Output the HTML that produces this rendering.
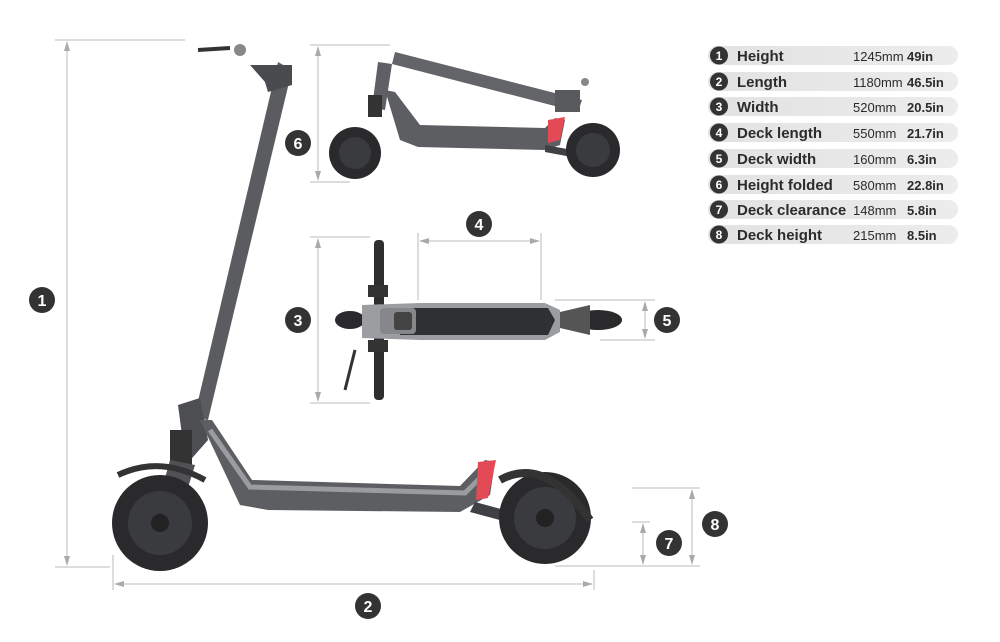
<!DOCTYPE html>
<html><head><meta charset="utf-8"><style>
body{margin:0;background:#fff;width:1000px;height:637px;overflow:hidden;font-family:"Liberation Sans",sans-serif}
.n{font-weight:bold;fill:#fff;font-size:16px;text-anchor:middle}
.t{font-weight:bold;font-size:15px;fill:#2b2b2b}
.mm{font-size:13px;fill:#2b2b2b}
.in{font-size:13px;font-weight:bold;fill:#2b2b2b}
</style></head><body>
<svg width="1000" height="637" viewBox="0 0 1000 637" xmlns="http://www.w3.org/2000/svg">
<defs>
<linearGradient id="pill" x1="0" x2="1"><stop offset="0" stop-color="#e2e2e2"/><stop offset="1" stop-color="#ececec"/></linearGradient>
<marker id="a" markerWidth="10" markerHeight="8" refX="9" refY="4" orient="auto-start-reverse"><path d="M0,1 L10,4 L0,7z" fill="#aaa"/></marker>
</defs>
<g stroke="#bbb" stroke-width="1" fill="none">
<line x1="55" y1="40" x2="185" y2="40"/><line x1="55" y1="567" x2="110" y2="567"/>
<line x1="67" y1="42" x2="67" y2="565" marker-start="url(#a)" marker-end="url(#a)"/>
<line x1="113" y1="555" x2="113" y2="590"/><line x1="594" y1="570" x2="594" y2="590"/>
<line x1="115" y1="584" x2="592" y2="584" marker-start="url(#a)" marker-end="url(#a)"/>
<line x1="310" y1="45" x2="390" y2="45"/><line x1="310" y1="182" x2="350" y2="182"/>
<line x1="318" y1="47" x2="318" y2="180" marker-start="url(#a)" marker-end="url(#a)"/>
<line x1="310" y1="237" x2="370" y2="237"/><line x1="310" y1="403" x2="370" y2="403"/>
<line x1="318" y1="239" x2="318" y2="401" marker-start="url(#a)" marker-end="url(#a)"/>
<line x1="418" y1="233" x2="418" y2="300"/><line x1="541" y1="233" x2="541" y2="300"/>
<line x1="420" y1="241" x2="539" y2="241" marker-start="url(#a)" marker-end="url(#a)"/>
<line x1="555" y1="300" x2="655" y2="300"/><line x1="600" y1="340" x2="655" y2="340"/>
<line x1="645" y1="302" x2="645" y2="338" marker-start="url(#a)" marker-end="url(#a)"/>
<line x1="632" y1="488" x2="700" y2="488"/><line x1="632" y1="522" x2="650" y2="522"/><line x1="555" y1="566" x2="700" y2="566"/>
<line x1="643" y1="524" x2="643" y2="564" marker-start="url(#a)" marker-end="url(#a)"/>
<line x1="692" y1="490" x2="692" y2="564" marker-start="url(#a)" marker-end="url(#a)"/>
</g>
<!-- main scooter -->
<g>
<path d="M278,62 L292,70 L208,420 L194,418z" fill="#5a5c60"/>
<path d="M250,65 L292,65 L292,85 L268,92 L265,82z" fill="#4a4b4f"/>
<circle cx="240" cy="50" r="6" fill="#888"/><path d="M198,50 L230,48" stroke="#333" stroke-width="4"/>
<path d="M178,405 L200,398 L208,440 L186,465z" fill="#4d4e52"/>
<rect x="170" y="430" width="22" height="35" fill="#333"/>
<path d="M170,460 L195,465 L178,520 L155,515z" fill="#505154"/>
<path d="M200,420 L212,420 L252,480 L460,486 L485,460 L495,462 L490,495 L460,512 L268,510 L240,505z" fill="#5c5e62"/>
<path d="M210,430 L250,487 L465,493 L490,468" stroke="#9a9c9f" stroke-width="5" fill="none"/>
<path d="M478,462 L496,460 L488,498 L476,500z" fill="#e34a55"/>
<path d="M475,502 L560,525 L555,535 L470,512z" fill="#3f4043"/>
<circle cx="160" cy="523" r="48" fill="#2a2a2c"/><circle cx="160" cy="523" r="32" fill="#3a3b3e"/><circle cx="160" cy="523" r="9" fill="#222"/>
<path d="M118,475 Q160,455 205,480" stroke="#333" stroke-width="6" fill="none"/>
<circle cx="545" cy="518" r="46" fill="#2a2a2c"/><circle cx="545" cy="518" r="31" fill="#3a3b3e"/><circle cx="545" cy="518" r="9" fill="#222"/>
<path d="M500,480 Q545,455 590,520" stroke="#333" stroke-width="8" fill="none"/>
</g>
<!-- folded scooter -->
<g>
<path d="M395,52 L582,100 L578,112 L392,64z" fill="#626468"/>
<rect x="555" y="90" width="25" height="22" fill="#58595d"/>
<circle cx="585" cy="82" r="4" fill="#888"/>
<path d="M378,62 L392,64 L385,110 L372,108z" fill="#5e6064"/>
<rect x="368" y="95" width="14" height="22" fill="#333"/>
<path d="M385,90 L395,92 L420,125 L545,128 L555,118 L565,120 L560,145 L545,150 L418,147 L400,140z" fill="#5c5e62"/>
<path d="M548,120 L565,117 L560,140 L548,143z" fill="#e34a55"/>
<path d="M545,145 L600,155 L598,162 L545,152z" fill="#3f4043"/>
<circle cx="355" cy="153" r="26" fill="#2a2a2c"/><circle cx="355" cy="153" r="16" fill="#3a3b3e"/>
<circle cx="593" cy="150" r="27" fill="#2a2a2c"/><circle cx="593" cy="150" r="17" fill="#3a3b3e"/>
</g>
<!-- top view -->
<g>
<rect x="374" y="240" width="10" height="160" rx="4" fill="#2e2e30"/>
<rect x="368" y="285" width="20" height="12" fill="#333"/><rect x="368" y="340" width="20" height="12" fill="#333"/>
<ellipse cx="350" cy="320" rx="15" ry="9" fill="#2a2a2c"/>
<path d="M362,305 L420,303 L545,303 L560,310 L560,332 L545,340 L420,340 L362,338z" fill="#9b9da0"/>
<path d="M400,308 L548,308 L555,320 L548,335 L400,335z" fill="#2f3033"/>
<rect x="380" y="308" width="36" height="26" rx="4" fill="#85878a"/>
<rect x="394" y="312" width="18" height="18" rx="3" fill="#444"/>
<ellipse cx="598" cy="320" rx="24" ry="10" fill="#2a2a2c"/>
<path d="M560,312 L590,305 L590,335 L560,328z" fill="#555"/>
<path d="M355,350 L345,390" stroke="#333" stroke-width="3"/>
</g>
<!-- number badges -->
<g fill="#333">
<circle cx="42" cy="300" r="13"/><circle cx="368" cy="606" r="13"/><circle cx="298" cy="143" r="13"/>
<circle cx="298" cy="320" r="13"/><circle cx="479" cy="224" r="13"/><circle cx="667" cy="320" r="13"/>
<circle cx="669" cy="543" r="13"/><circle cx="715" cy="524" r="13"/>
</g>
<g class="n">
<text x="42" y="306" class="n">1</text><text x="368" y="612" class="n">2</text><text x="298" y="149" class="n">6</text>
<text x="298" y="326" class="n">3</text><text x="479" y="230" class="n">4</text><text x="667" y="326" class="n">5</text>
<text x="669" y="549" class="n">7</text><text x="715" y="530" class="n">8</text>
</g>
<!-- table -->
<g>
<rect x="708" y="46" width="250" height="19" rx="9.5" fill="url(#pill)"/>
<rect x="708" y="72" width="250" height="19" rx="9.5" fill="url(#pill)"/>
<rect x="708" y="97" width="250" height="19" rx="9.5" fill="url(#pill)"/>
<rect x="708" y="123" width="250" height="19" rx="9.5" fill="url(#pill)"/>
<rect x="708" y="149" width="250" height="19" rx="9.5" fill="url(#pill)"/>
<rect x="708" y="175" width="250" height="19" rx="9.5" fill="url(#pill)"/>
<rect x="708" y="200" width="250" height="19" rx="9.5" fill="url(#pill)"/>
<rect x="708" y="225" width="250" height="19" rx="9.5" fill="url(#pill)"/>
<g fill="#333">
<circle cx="719" cy="55.5" r="9"/><circle cx="719" cy="81.5" r="9"/><circle cx="719" cy="106.5" r="9"/><circle cx="719" cy="132.5" r="9"/>
<circle cx="719" cy="158.5" r="9"/><circle cx="719" cy="184.5" r="9"/><circle cx="719" cy="209.5" r="9"/><circle cx="719" cy="234.5" r="9"/>
</g>
<g style="font-size:12px;font-weight:bold;fill:#fff;text-anchor:middle">
<text x="719" y="60">1</text><text x="719" y="86">2</text><text x="719" y="111">3</text><text x="719" y="137">4</text>
<text x="719" y="163">5</text><text x="719" y="189">6</text><text x="719" y="214">7</text><text x="719" y="239">8</text>
</g>
<text class="t" x="737" y="61">Height</text><text class="mm" x="853" y="61">1245mm</text><text class="in" x="907" y="61">49in</text>
<text class="t" x="737" y="87">Length</text><text class="mm" x="853" y="87">1180mm</text><text class="in" x="907" y="87">46.5in</text>
<text class="t" x="737" y="112">Width</text><text class="mm" x="853" y="112">520mm</text><text class="in" x="907" y="112">20.5in</text>
<text class="t" x="737" y="138">Deck length</text><text class="mm" x="853" y="138">550mm</text><text class="in" x="907" y="138">21.7in</text>
<text class="t" x="737" y="164">Deck width</text><text class="mm" x="853" y="164">160mm</text><text class="in" x="907" y="164">6.3in</text>
<text class="t" x="737" y="190">Height folded</text><text class="mm" x="853" y="190">580mm</text><text class="in" x="907" y="190">22.8in</text>
<text class="t" x="737" y="215">Deck clearance</text><text class="mm" x="853" y="215">148mm</text><text class="in" x="907" y="215">5.8in</text>
<text class="t" x="737" y="240">Deck height</text><text class="mm" x="853" y="240">215mm</text><text class="in" x="907" y="240">8.5in</text>
</g>
</svg>
</body></html>
